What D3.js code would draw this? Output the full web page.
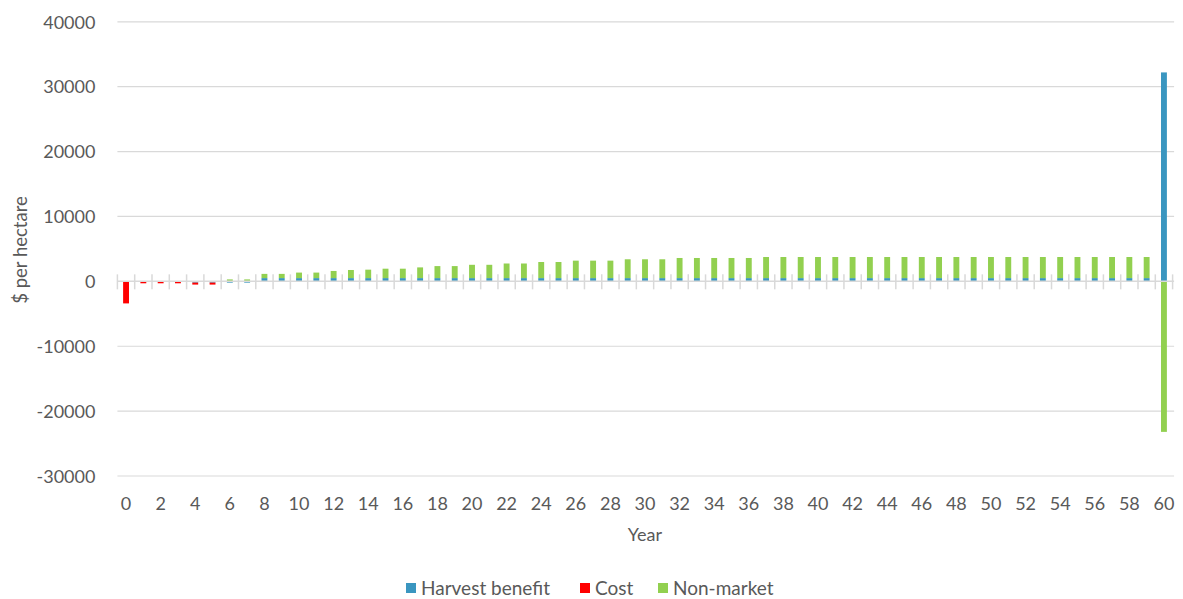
<!DOCTYPE html>
<html>
<head>
<meta charset="utf-8">
<script src="https://cdn.jsdelivr.net/npm/d3@7"></script>
<style>
  html, body { margin: 0; padding: 0; background: #fff; }
  svg text { font-family: Lato, "Open Sans", sans-serif; fill: #595959; }
</style>
</head>
<body>
<svg id="chart" width="1183" height="599"></svg>
<script>
// Years 0..60
const years = d3.range(0, 61);

// Harvest benefit ($ per hectare)
const harvest = [
  0, 0, 0, 0, -200, -200, -200, -200,
  500, 500, 500, 500, 500, 500, 500, 500, 500, 500, 500, 500,
  500, 500, 500, 500, 500, 500, 500, 500, 500, 500, 500, 500,
  500, 500, 500, 500, 500, 500, 500, 500, 500, 500, 500, 500,
  500, 500, 500, 500, 500, 500, 500, 500, 500, 500, 500, 500,
  500, 500, 500, 500, 32200
];

// Cost ($ per hectare)
const cost = [
  -3400, -300, -300, -300, -300, -300, 0, 0,
  0, 0, 0, 0, 0, 0, 0, 0, 0, 0, 0, 0,
  0, 0, 0, 0, 0, 0, 0, 0, 0, 0, 0, 0,
  0, 0, 0, 0, 0, 0, 0, 0, 0, 0, 0, 0,
  0, 0, 0, 0, 0, 0, 0, 0, 0, 0, 0, 0,
  0, 0, 0, 0, 0
];

// Non-market value ($ per hectare)
const nonMarket = [
  0, 0, 0, 0, 0, 0, 300, 300,
  650, 650, 850, 850, 1100, 1250, 1300, 1450, 1450, 1650, 1850, 1850,
  2050, 2050, 2250, 2250, 2480, 2480, 2690, 2690, 2690, 2900, 2900, 2900,
  3100, 3100, 3100, 3100, 3100, 3250, 3250, 3250, 3250, 3250, 3250, 3250,
  3250, 3250, 3250, 3250, 3250, 3250, 3250, 3250, 3250, 3250, 3250, 3250,
  3250, 3250, 3250, 3250, -23200
];

const seriesNames = ["Harvest benefit", "Cost", "Non-market"];
const seriesColors = ["#3a96c0", "#ff0000", "#92d050"];
const yTicks = [40000, 30000, 20000, 10000, 0, -10000, -20000, -30000];
const xLabels = years.filter(y => y % 2 === 0);

const rows = years.map((y, i) => ({
  year: y,
  "Harvest benefit": harvest[i],
  "Cost": cost[i],
  "Non-market": nonMarket[i]
}));

const svg = d3.select("#chart");
const plot = { left: 117.4, right: 1172.6, top: 21.8, bottom: 476 };

const x = d3.scaleBand().domain(years).range([plot.left, plot.right]).padding(0);
const y = d3.scaleLinear().domain([-30000, 40000]).range([plot.bottom, plot.top]);

// horizontal gridlines
svg.append("g")
  .selectAll("line")
  .data(yTicks.filter(v => v !== 0))
  .join("line")
  .attr("x1", plot.left).attr("x2", plot.right + 1.5)
  .attr("y1", d => y(d)).attr("y2", d => y(d))
  .attr("stroke", "#d9d9d9").attr("stroke-width", 1.2);

// y axis labels (plain hyphen for negatives)
const yAxis = d3.axisLeft(y).tickValues(yTicks).tickSize(0).tickPadding(22)
  .tickFormat(d => String(d));
const gy = svg.append("g").attr("transform", `translate(${plot.left},0)`).call(yAxis);
gy.select(".domain").remove();
gy.selectAll("text").attr("font-size", 18).attr("dy", "0.35em").style("fill", "#595959");

// stacked bars (positives stack up, negatives stack down)
const stack = d3.stack().keys(seriesNames).offset(d3.stackOffsetDiverging);
const layers = stack(rows);
const barW = x.bandwidth() * 0.34;

svg.append("g")
  .selectAll("g")
  .data(layers)
  .join("g")
  .attr("fill", (d, i) => seriesColors[i])
  .selectAll("rect")
  .data(d => d)
  .join("rect")
  .attr("x", d => x(d.data.year) + (x.bandwidth() - barW) / 2)
  .attr("width", barW)
  .attr("y", d => y(Math.max(d[0], d[1])))
  .attr("height", d => Math.abs(y(d[0]) - y(d[1])));

// category axis through zero with crossing tick marks
const gx = svg.append("g");
gx.append("line")
  .attr("x1", plot.left).attr("x2", plot.right + 1.5)
  .attr("y1", y(0)).attr("y2", y(0))
  .attr("stroke", "#d9d9d9").attr("stroke-width", 1.5);
gx.selectAll("line.tick")
  .data(d3.range(0, years.length + 1))
  .join("line")
  .attr("class", "tick")
  .attr("x1", i => plot.left + i * x.step())
  .attr("x2", i => plot.left + i * x.step())
  .attr("y1", y(0) - 7).attr("y2", y(0) + 8)
  .attr("stroke", "#d9d9d9").attr("stroke-width", 1.5);

// x labels along the bottom
const xAxis = d3.axisBottom(x).tickValues(xLabels).tickSize(0).tickPadding(0);
const gxl = svg.append("g").attr("transform", `translate(0,${plot.bottom + 21})`).call(xAxis);
gxl.select(".domain").remove();
gxl.selectAll("text").attr("font-size", 18).attr("dy", "0.71em").style("fill", "#595959");

// axis titles
svg.append("text")
  .attr("x", 645).attr("y", 541)
  .attr("text-anchor", "middle").attr("font-size", 18)
  .text("Year");
svg.append("text")
  .attr("transform", "translate(27,250) rotate(-90)")
  .attr("text-anchor", "middle").attr("font-size", 18.5)
  .text("$ per hectare");

// legend
const legend = svg.append("g").attr("transform", "translate(406,588)");
const legendX = [0, 174, 252];
seriesNames.forEach((name, i) => {
  const g = legend.append("g").attr("transform", `translate(${legendX[i]},0)`);
  g.append("rect").attr("x", 0).attr("y", -5).attr("width", 10).attr("height", 10)
    .attr("fill", seriesColors[i]);
  g.append("text").attr("x", 15).attr("y", 0).attr("dy", "0.35em")
    .attr("font-size", 19).text(name);
});
</script>
</body>
</html>
